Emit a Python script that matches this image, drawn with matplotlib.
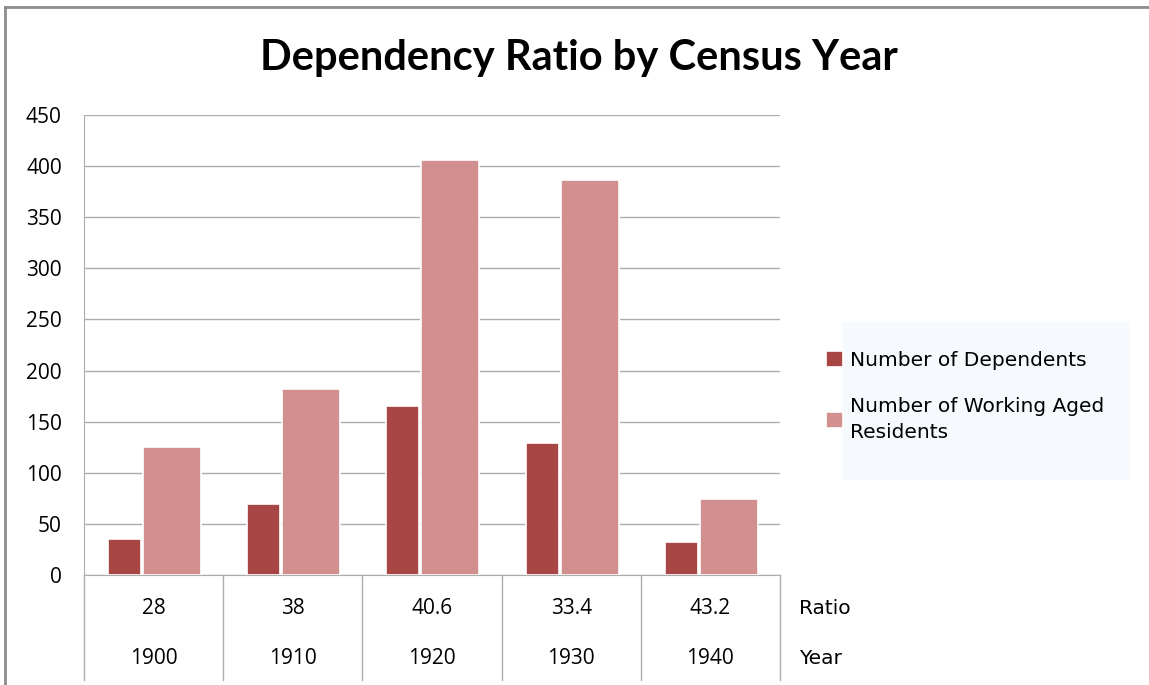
import matplotlib.pyplot as plt
from matplotlib.patches import Rectangle
import numpy as np

years = ['1900', '1910', '1920', '1930', '1940']
ratios = ['28', '38', '40.6', '33.4', '43.2']
dependents = [35, 69, 165, 129, 32]
working = [125, 182, 406, 386, 74]

dark = '#A84646'
light = '#D18F8F'
grid = '#ADADAD'
W, H = 1149, 685

fig = plt.figure(figsize=(W / 100, H / 100), dpi=100)
ax = fig.add_axes([84 / W, 1 - 575 / H, (780 - 84) / W, 460 / H])

x = np.arange(len(years))
ax.bar(x - 0.328, dependents, width=0.237, align='edge', color=dark,
       edgecolor='white', linewidth=1.2, zorder=3, label='Number of Dependents')
ax.bar(x - 0.076, working, width=0.417, align='edge', color=light,
       edgecolor='white', linewidth=1.2, zorder=3,
       label='Number of Working Aged\nResidents')

ax.set_xlim(-0.5, len(years) - 0.5)
ax.set_ylim(0, 450)
ax.set_yticks(range(0, 451, 50))
ax.set_yticklabels([str(v) for v in range(0, 451, 50)], family='Open Sans', fontsize=15)
ax.tick_params(axis='y', length=0, pad=16)
ax.set_xticks([])
ax.yaxis.grid(True, color=grid, linewidth=1)
ax.set_axisbelow(True)
for s in ['top', 'right']:
    ax.spines[s].set_visible(False)
ax.spines['bottom'].set_color(grid)
ax.spines['left'].set_color(grid)
ax.spines['left'].set_bounds(0, 450)

# table under the axis
tr = ax.get_xaxis_transform()
bottom = -105 / 460
for b in np.arange(-0.5, len(years), 1.0):
    ax.plot([b, b], [0, bottom], transform=tr, color=grid, linewidth=1, clip_on=False)
for i in range(len(years)):
    ax.text(i, -33 / 460, ratios[i], transform=tr, ha='center', va='center',
            family='Open Sans', fontsize=15)
    ax.text(i, -84 / 460, years[i], transform=tr, ha='center', va='center',
            family='Open Sans', fontsize=15)
ax.text(4.64, -33 / 460, 'Ratio', transform=tr, ha='left', va='center', fontsize=14.5)
ax.text(4.64, -84 / 460, 'Year', transform=tr, ha='left', va='center', fontsize=14.5)

fig.suptitle('Dependency Ratio by Census Year', x=579 / W, y=1 - 58 / H, va='center',
             family='Lato', fontweight='bold', fontsize=30)

# legend with pale background
fig.patches.append(Rectangle((842 / W, 1 - 480 / H), (1130 - 842) / W, 158 / H,
                             transform=fig.transFigure, facecolor='#F6F9FD',
                             edgecolor='none', zorder=0))
leg = fig.legend(loc='upper left', bbox_to_anchor=(808 / W, 1 - 333 / H), frameon=False,
                 handlelength=0.85, handleheight=0.85, handletextpad=0.35,
                 labelspacing=1.35, fontsize=14.5)
for t in leg.get_texts():
    t.set_linespacing(1.45)

# outer frame
fig.add_artist(plt.Line2D([5 / W, 5 / W], [0, 1 - 7 / H], transform=fig.transFigure,
                          color='#8C8C8C', linewidth=2))
fig.add_artist(plt.Line2D([5 / W, 1], [1 - 7 / H, 1 - 7 / H], transform=fig.transFigure,
                          color='#8C8C8C', linewidth=2))

fig.savefig('out.png', dpi=100)
